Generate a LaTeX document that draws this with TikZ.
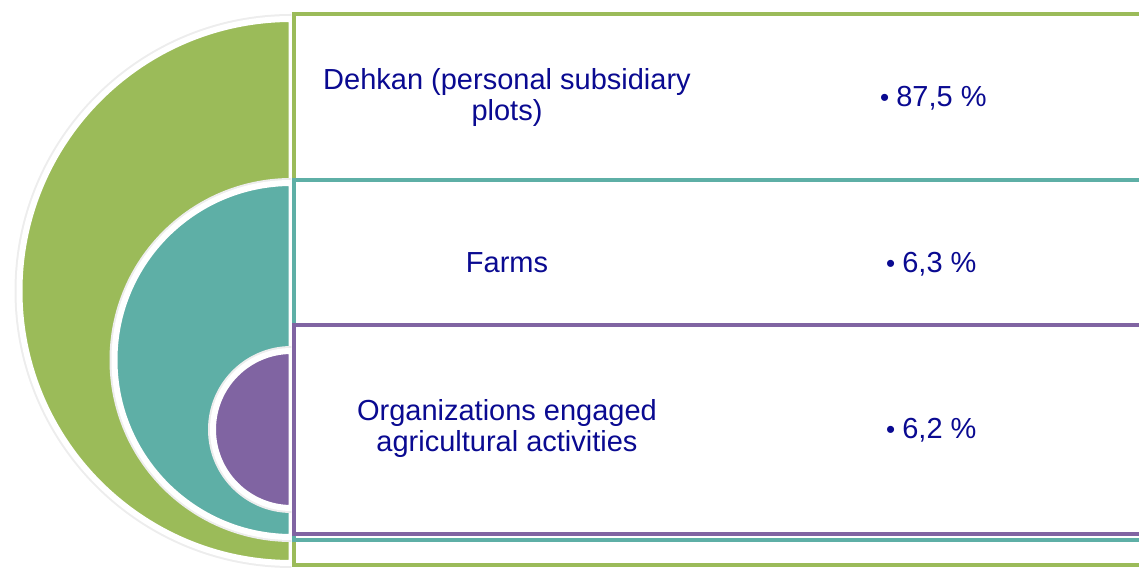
\documentclass[tikz,border=0pt]{standalone}
\usepackage{fontspec}
\setmainfont{Liberation Sans}
\definecolor{cgreen}{HTML}{9BBB59}
\definecolor{cteal}{HTML}{5EAFA6}
\definecolor{cpurple}{HTML}{8064A2}
\definecolor{ctext}{RGB}{10,10,145}
\begin{document}
\begin{tikzpicture}[x=1pt,y=1pt,
  halfshadow/.style={draw=black!7,line width=10pt},
  halfedge/.style={draw=white,line width=6pt},
  panel/.style={draw=#1,fill=white,line width=4pt},
  lbl/.style={text=ctext,font=\fontsize{29}{31}\selectfont,align=center,inner sep=0pt},
  pct/.style={text=ctext,font=\fontsize{29}{31}\selectfont,anchor=west,inner sep=0pt}]
\useasboundingbox (0,0) rectangle (1139,569);
% green
\draw[halfshadow] (291.5,550) arc[start angle=90,end angle=270,radius=272];
\fill[cgreen] (291.5,550) arc[start angle=90,end angle=270,radius=272] -- cycle;
\draw[halfedge] (291.5,550) arc[start angle=90,end angle=270,radius=272] -- cycle;
\draw[panel=cgreen] (294,554.5) rectangle (1150,4);
% teal
\draw[halfshadow] (291.5,386) arc[start angle=90,end angle=270,radius=177];
\fill[cteal] (291.5,386) arc[start angle=90,end angle=270,radius=177] -- cycle;
\draw[halfedge] (291.5,386) arc[start angle=90,end angle=270,radius=177] -- cycle;
\draw[panel=cteal] (294,388.5) rectangle (1150,28.5);
% purple
\draw[halfshadow] (291.5,218) arc[start angle=90,end angle=270,radius=78.5];
\fill[cpurple] (291.5,218) arc[start angle=90,end angle=270,radius=78.5] -- cycle;
\draw[halfedge] (291.5,218) arc[start angle=90,end angle=270,radius=78.5] -- cycle;
\draw[panel=cpurple] (294,243.5) rectangle (1150,35);
% texts
\node[lbl] (t1) at (507,471.5) {Dehkan (personal subsidiary\\plots)};
\node[lbl] (t2) at (507,306) {Farms};
\node[lbl] (t3) at (507,140.5) {Organizations engaged\\agricultural activities};
\node[pct] (p1) at (880,471) {\fontsize{26}{28}\selectfont•\hspace{7pt}\fontsize{29}{31}\selectfont87,5 \%};
\node[pct] (p2) at (886,305) {\fontsize{26}{28}\selectfont•\hspace{7pt}\fontsize{29}{31}\selectfont6,3 \%};
\node[pct] (p3) at (886,139) {\fontsize{26}{28}\selectfont•\hspace{7pt}\fontsize{29}{31}\selectfont6,2 \%};
\end{tikzpicture}
\end{document}
